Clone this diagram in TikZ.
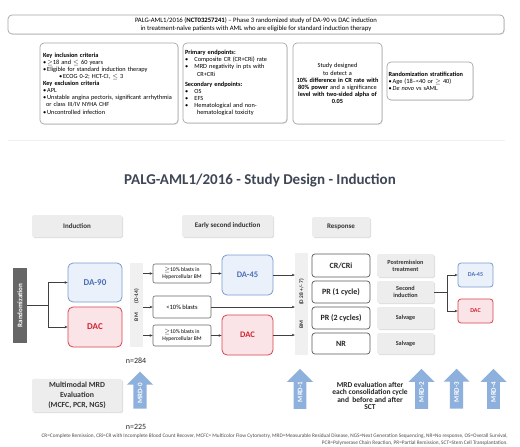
\documentclass[tikz,border=0pt]{standalone}
\usepackage{fontspec}
\setmainfont{Carlito}
\usetikzlibrary{arrows.meta,shapes.arrows,shadows}
\definecolor{armblue}{HTML}{7B9BD1}
\definecolor{armbluefill}{HTML}{EAF1FB}
\definecolor{armbluetext}{HTML}{4A6FB5}
\definecolor{armred}{HTML}{D9434B}
\definecolor{armredfill}{HTML}{FBE4E8}
\definecolor{armredtext}{HTML}{D0232F}
\definecolor{mrdblue}{HTML}{8EB0DC}
\definecolor{titlegray}{HTML}{3F4756}
\definecolor{linegray}{HTML}{404040}
\definecolor{panelgray}{HTML}{EDEDED}

\begin{document}
\begin{tikzpicture}[x=1pt,y=-1pt,
  topbox/.style={draw=gray!70, line width=0.7pt, rounded corners=4pt, fill=white, inner sep=2pt,
    drop shadow={opacity=0.2,shadow xshift=0.8pt,shadow yshift=-0.8pt}},
  headbox/.style={fill=panelgray, rounded corners=1.5pt, text=black!80,
    drop shadow={opacity=0.25,shadow xshift=1pt,shadow yshift=-1pt}},
  bluearm/.style={draw=armblue, fill=armbluefill, text=armbluetext, rounded corners=5pt, line width=0.8pt},
  redarm/.style={draw=armred, fill=armredfill, text=armredtext, rounded corners=5pt, line width=0.8pt},
  strip/.style={fill=gray!12},
  striptext/.style={rotate=90, text=black!80, font=\bfseries\fontsize{5.5}{6}\selectfont},
  blastbox/.style={draw=black!60, fill=white, rounded corners=2pt, line width=0.6pt, minimum width=58pt, align=center,
    font=\fontsize{5.6}{6.4}\selectfont, inner sep=1pt},
  respbox/.style={draw=black!65, fill=white, rounded corners=3pt, line width=0.7pt, minimum width=58pt,
    font=\bfseries\fontsize{8}{9}\selectfont, text=black!85},
  treatbox/.style={headbox, minimum width=57pt, align=center, font=\bfseries\fontsize{6.2}{7.2}\selectfont},
  mrdarrow/.style={single arrow, fill=mrdblue, draw=none, rotate=90, minimum height=40pt, minimum width=26pt,
    single arrow head extend=6pt, inner ysep=3.5pt, inner xsep=1pt, text=white, font=\bfseries\fontsize{7}{8}\selectfont},
  conn/.style={draw=linegray, line width=0.6pt, -{Stealth[length=3pt,width=2.6pt]}},
  plainconn/.style={draw=linegray, line width=0.6pt}
]
\useasboundingbox (0,0) rectangle (520,447);
\fill[white] (0,0) rectangle (520,447);

\node[topbox, minimum width=496pt, minimum height=19pt, align=center, font=\fontsize{6.7}{8.4}\selectfont] (header) at (256,24.5)
  {PALG-AML1/2016 (\textbf{NCT03257241}) -- Phase 3 randomized study of DA-90 vs DAC induction\\in treatment-naïve patients with AML who are eligible for standard induction therapy};
\node[topbox, minimum width=138pt, minimum height=81pt, text width=132pt, align=left, font=\fontsize{6.3}{7.1}\selectfont] (criteria) at (109,83.5)
  {\textbf{Key inclusion criteria}\\
   \textbullet\,$\geq$18 and $\leq$ 60 years\\
   \textbullet\,Eligible for standard induction therapy\\
   \hspace{16pt}\textbullet\,ECOG 0-2; HCT-CI, $\leq$ 3\\
   \textbf{Key exclusion criteria}\\
   \textbullet\,APL\\
   \textbullet\,Unstable angina pectoris, significant arrhythmia\\
   \hspace{3pt}or class III/IV NYHA CHF\\
   \textbullet\,Uncontrolled infection};
\node[topbox, minimum width=104pt, minimum height=80pt, text width=100pt, align=left, font=\fontsize{6.3}{7.1}\selectfont] (endpoints) at (235,83)
  {\textbf{Primary endpoints:}\\
   \textbullet\quad Composite CR (CR+CRi) rate\\
   \textbullet\quad MRD negativity in pts with\\
   \hspace{12pt}CR+CRi\\[3pt]
   \textbf{Secondary endpoints:}\\
   \textbullet\quad OS\\
   \textbullet\quad EFS\\
   \textbullet\quad Hematological and non-\\
   \hspace{12pt}hematological toxicity};
\node[topbox, minimum width=89pt, minimum height=81pt, text width=86pt, inner sep=1.5pt, align=center, font=\fontsize{6.3}{7.1}\selectfont] (power) at (337.5,83.5)
  {Study designed\\to detect a\\\textbf{10\% difference in CR rate with}\\\textbf{80\% power} and a significance\\\textbf{level with two-sided alpha of}\\\textbf{0.05}};
\node[topbox, minimum width=86pt, minimum height=38pt, text width=83pt, inner sep=1.5pt, align=left, font=\fontsize{6.3}{7.1}\selectfont] (strat) at (430,81)
  {\textbf{Randomization stratification}\\
   \textbullet\,Age (18--<40 or $\geq$ 40)\\
   \textbullet\,\textit{De novo} vs sAML};

\draw[gray!12, line width=0.8pt] (8,140) -- (505,140);

\node[font=\bfseries\fontsize{15}{17}\selectfont, text=titlegray] (title) at (260,180) {PALG-AML1/2016 - Study Design - Induction};

\node[headbox, minimum width=90pt, minimum height=22pt, font=\bfseries\fontsize{7}{8}\selectfont] (induction) at (77,226) {Induction};
\node[headbox, minimum width=91pt, minimum height=22pt, font=\bfseries\fontsize{7}{8}\selectfont] (early) at (227.5,226) {Early second induction};
\node[headbox, minimum width=58pt, minimum height=20pt, font=\bfseries\fontsize{7}{8}\selectfont] (response) at (341,227) {Response};

\node[fill=black!60, minimum width=14pt, minimum height=75pt, inner sep=0pt] (rand) at (20,305.5) {};
\node[rotate=90, text=white, font=\bfseries\fontsize{7}{8}\selectfont] (randtext) at (rand.center) {Randomization};
\node[bluearm, minimum width=54pt, minimum height=39pt, font=\bfseries\fontsize{9}{10}\selectfont] (da90) at (95,282.5) {DA-90};
\node[redarm, minimum width=54pt, minimum height=40pt, font=\bfseries\fontsize{9}{10}\selectfont] (dac) at (95,327) {DAC};
\coordinate (split) at (48,305.5);
\draw[plainconn] (rand.east) -- (split);
\draw[conn] (split) |- (da90.west);
\draw[conn] (split) |- (dac.west);

\node[strip, minimum width=13pt, minimum height=84pt, inner sep=0pt] (bmearly) at (136.5,305) {};
\node[striptext] (bmearlytext) at (bmearly.center) {BM\hspace{10pt}(D-14)};
\node[blastbox, minimum height=19pt] (blasthigh) at (182,273.5) {$\geq$10\% blasts in\\Hypercellular BM};
\node[blastbox, minimum height=22pt, font=\fontsize{6.5}{7}\selectfont] (blastlow) at (182,307) {<10\% blasts};
\node[blastbox, minimum height=21pt] (blastdac) at (182,335.5) {$\geq$10\% blasts in\\Hypercellular BM};
\node[bluearm, minimum width=51pt, minimum height=40pt, font=\bfseries\fontsize{8.5}{10}\selectfont] (da45) at (247.5,275) {DA-45};
\node[redarm, minimum width=51pt, minimum height=40pt, font=\bfseries\fontsize{8.5}{10}\selectfont] (dacearly) at (247.5,335) {DAC};
\draw[conn] (bmearly.east |- blasthigh) -- (blasthigh);
\draw[conn] (bmearly.east |- blastlow) -- (blastlow);
\draw[conn] (bmearly.east |- blastdac) -- (blastdac);
\draw[conn] (blasthigh) -- (da45.west |- blasthigh);
\draw[conn] (blastdac) -- (dacearly.west |- blastdac);

\node[strip, minimum width=13pt, minimum height=102pt, inner sep=0pt] (bmlate) at (301.5,304) {};
\node[striptext] (bmlatetext) at (bmlate.center) {BM\hspace{16pt}(D 28 +/- 7)};
\draw[conn] (da45) -- (bmlate.west |- da45);
\draw[conn] (blastlow) -- (bmlate.west |- blastlow);
\draw[conn] (dacearly) -- (bmlate.west |- dacearly);

\node[respbox, minimum height=23pt] (crcri) at (341,265.5) {CR/CRi};
\node[respbox, minimum height=22pt] (prone) at (341,292) {PR (1 cycle)};
\node[respbox, minimum height=22pt] (prtwo) at (341,318) {PR (2 cycles)};
\node[respbox, minimum height=21pt] (nr) at (341,343.5) {NR};
\node[treatbox, minimum height=23pt] (postrem) at (405.5,265.5) {Postremission\\treatment};
\node[treatbox, minimum height=22pt] (second) at (405.5,292) {Second\\induction};
\node[treatbox, minimum height=22pt] (salvone) at (405.5,318) {Salvage};
\node[treatbox, minimum height=21pt] (salvtwo) at (405.5,343.5) {Salvage};
\node[bluearm, rounded corners=3pt, minimum width=35pt, minimum height=24pt, font=\bfseries\fontsize{6}{7}\selectfont] (da45late) at (475.5,275) {DA-45};
\node[redarm, rounded corners=3pt, minimum width=35pt, minimum height=24pt, font=\bfseries\fontsize{6}{7}\selectfont] (daclate) at (475.5,311) {DAC};
\coordinate (secondsplit) at (447,292);
\draw[plainconn] (second.east) -- (secondsplit);
\draw[conn] (secondsplit) |- (da45late.west);
\draw[conn] (secondsplit) |- (daclate.west);

\node[font=\fontsize{8}{9}\selectfont, text=black!85] (nrand) at (136,361) {n=284};
\node[font=\fontsize{8}{9}\selectfont, text=black!85] (nmrd) at (136,427) {n=225};
\node[headbox, minimum width=90pt, minimum height=33pt, align=center, font=\bfseries\fontsize{7.8}{10}\selectfont] (multimodal) at (77,395.5)
  {Multimodal MRD\\Evaluation\\(MCFC, PCR, NGS)};
\node[mrdarrow, minimum height=37pt] (mrdzero) at (140,393.5) {MRD-0};
\node[mrdarrow] (mrdone) at (300,392) {MRD-1};
\node[mrdarrow] (mrdtwo) at (421.5,392) {MRD-2};
\node[mrdarrow] (mrdthree) at (456.5,392) {MRD-3};
\node[mrdarrow] (mrdfour) at (493.5,392) {MRD-4};
\node[align=center, font=\bfseries\fontsize{7.5}{7.3}\selectfont, text=black!85] (mrdnote) at (370,396)
  {MRD evaluation after\\each consolidation cycle\\and\ \ before and after\\SCT};

\node[anchor=north east, align=right, inner sep=0pt, font=\fontsize{5.3}{6.5}\selectfont, text=black!70] (abbr) at (508,434)
  {CR=Complete Remission, CRi=CR with Incomplete Blood Count Recover, MCFC= Multicolor Flow Cytometry, MRD=Measurable Residual Disease, NGS=Next Generation Sequencing, NR=No response, OS=Overall Survival,\\
   PCR=Polymerase Chain Reaction, PR=Partial Remission, SCT=Stem Cell Transplantation.};
\end{tikzpicture}
\end{document}
